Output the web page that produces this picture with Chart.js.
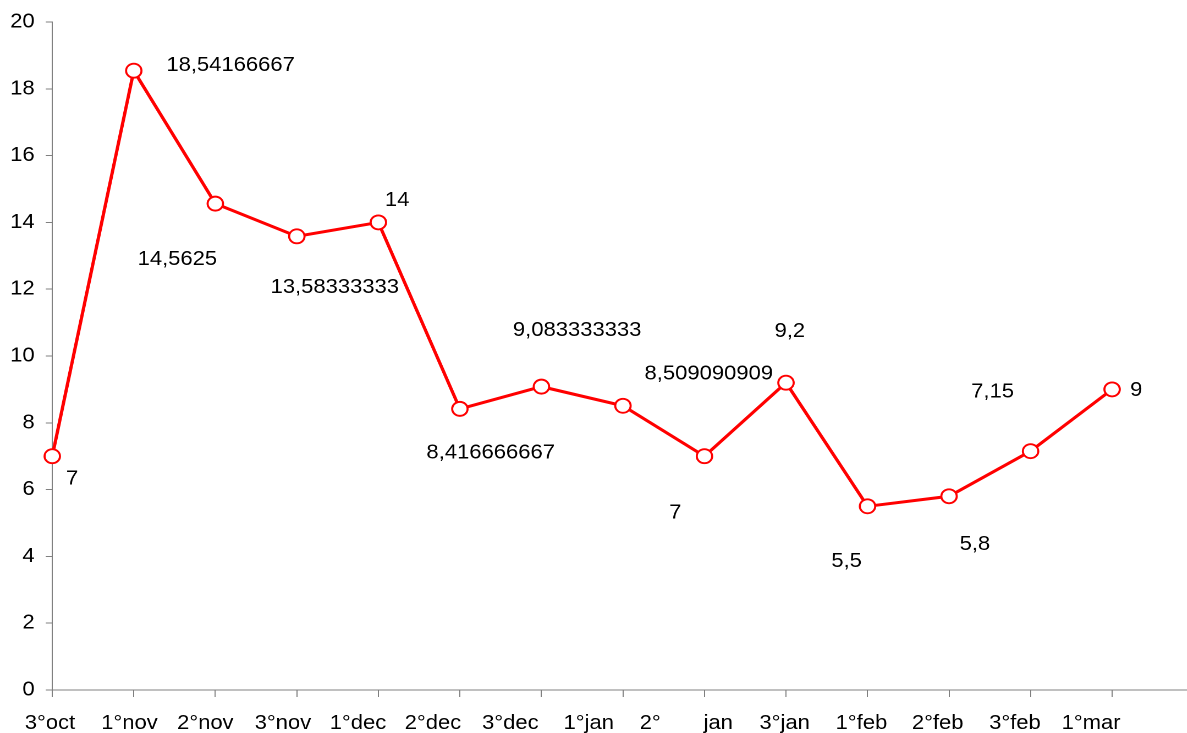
<!DOCTYPE html>
<html>
<head>
<meta charset="utf-8">
<title>Trend per decade</title>
<script src="https://cdn.jsdelivr.net/npm/chart.js@4.4.1/dist/chart.umd.min.js"></script>
<style>
  html, body { margin: 0; padding: 0; background: #ffffff; overflow: hidden; }
  #wrap { width: 1094px; height: 733px; transform: scaleX(1.1); transform-origin: 0 0; }
  #chart { display: block; width: 1094px; height: 733px; }
</style>
</head>
<body>
<div id="wrap"><canvas id="chart" width="1094" height="733"></canvas></div>
<script>
// Decade labels along the horizontal axis (the trailing blank slot leaves room after 1°mar)
const categories = ['3°oct', '1°nov', '2°nov', '3°nov', '1°dec', '2°dec', '3°dec', '1°jan',
  '2°       jan', '3°jan', '1°feb', '2°feb', '3°feb', '1°mar', ''];

// Average per decade
const values = [7, 18.54166667, 14.5625, 13.58333333, 14, 8.416666667, 9.083333333,
  8.509090909, 7, 9.2, 5.5, 5.8, 7.15, 9];

// Value axis ticks
const yTicks = [0, 2, 4, 6, 8, 10, 12, 14, 16, 18, 20];

// Horizontal shift of each category label away from its tick
const categoryShift = [-2.1, -3.9, -9.1, -12.7, -18.5, -24.5, -28.2, -31.1, -16.5,
  -1.2, -5.5, -10.3, -14.2, -19.1, 0];

// Where each value label sits relative to its point [dx, dy]
const labelNudge = [[18, 23], [88, -5], [-34.5, 56], [34.5, 51], [17, -22], [28, 44],
  [32.5, -56], [78, -32], [-26.5, 57], [3.5, -51], [-19, 55], [23.5, 48], [-34.5, -59], [22, 1]];

const FONT = '"Liberation Sans", Arial, sans-serif';
const AXIS_GREY = '#808080';
const PLOT_RIGHT = 1083.1;

const fmt = v => String(v).replace('.', ',');

const valueLabels = {
  id: 'valueLabels',
  afterDatasetsDraw(chart) {
    const ctx = chart.ctx;
    const meta = chart.getDatasetMeta(0);
    ctx.save();
    ctx.font = '20px ' + FONT;
    ctx.fillStyle = '#000000';
    ctx.textAlign = 'center';
    ctx.textBaseline = 'middle';
    meta.data.forEach((pt, i) => {
      const v = values[i];
      if (v == null) return;
      const n = labelNudge[i] || [0, 0];
      ctx.fillText(fmt(v), pt.x + n[0], pt.y + n[1]);
    });
    ctx.restore();
  }
};

const categoryLabels = {
  id: 'categoryLabels',
  afterDraw(chart) {
    const ctx = chart.ctx;
    const xs = chart.scales.x;
    ctx.save();
    ctx.font = '20px ' + FONT;
    ctx.fillStyle = '#000000';
    ctx.textAlign = 'center';
    ctx.textBaseline = 'alphabetic';
    categories.forEach((c, i) => {
      if (!c) return;
      ctx.fillText(c, xs.getPixelForTick(i) + (categoryShift[i] || 0), chart.chartArea.bottom + 39);
    });
    ctx.restore();
  }
};

const chart = new Chart(document.getElementById('chart'), {
  type: 'line',
  data: {
    labels: categories,
    datasets: [{
      data: values,
      borderColor: '#ff0000',
      borderWidth: 3,
      tension: 0,
      fill: false,
      pointRadius: 7,
      pointHoverRadius: 7,
      pointBorderWidth: 1.9,
      pointBackgroundColor: '#ffffff',
      pointBorderColor: '#ff0000'
    }]
  },
  options: {
    responsive: false,
    devicePixelRatio: 2,
    animation: false,
    events: [],
    layout: { padding: { top: 20, right: 2, left: 0, bottom: 0 } },
    plugins: { legend: { display: false }, tooltip: { enabled: false } },
    scales: {
      x: {
        type: 'category',
        offset: false,
        afterFit(scale) { scale.height = 43; },
        grid: {
          display: true,
          drawOnChartArea: false,
          drawTicks: true,
          tickLength: 7,
          color: c => (c.index === categories.length - 1 ? 'rgba(0,0,0,0)' : AXIS_GREY),
          lineWidth: 1
        },
        border: { display: true, color: AXIS_GREY, width: 1 },
        ticks: { display: false, autoSkip: false, maxRotation: 0, minRotation: 0 }
      },
      y: {
        min: yTicks[0],
        max: yTicks[yTicks.length - 1],
        afterFit(scale) { scale.width = 47.5; },
        afterBuildTicks(scale) { scale.ticks = yTicks.map(v => ({ value: v })); },
        grid: {
          display: true,
          drawOnChartArea: false,
          drawTicks: true,
          tickLength: 6,
          color: AXIS_GREY,
          lineWidth: 1
        },
        border: { display: true, color: AXIS_GREY, width: 1 },
        ticks: {
          padding: 10,
          color: '#000000',
          font: { family: FONT, size: 20 },
          callback: v => String(v)
        }
      }
    }
  },
  plugins: [valueLabels, categoryLabels]
});

// Keep the plot area ending one category step past 1°mar
const extra = chart.chartArea.right - PLOT_RIGHT;
if (Math.abs(extra) > 0.2) {
  chart.options.layout.padding.right += extra;
  chart.update();
}
</script>
</body>
</html>
